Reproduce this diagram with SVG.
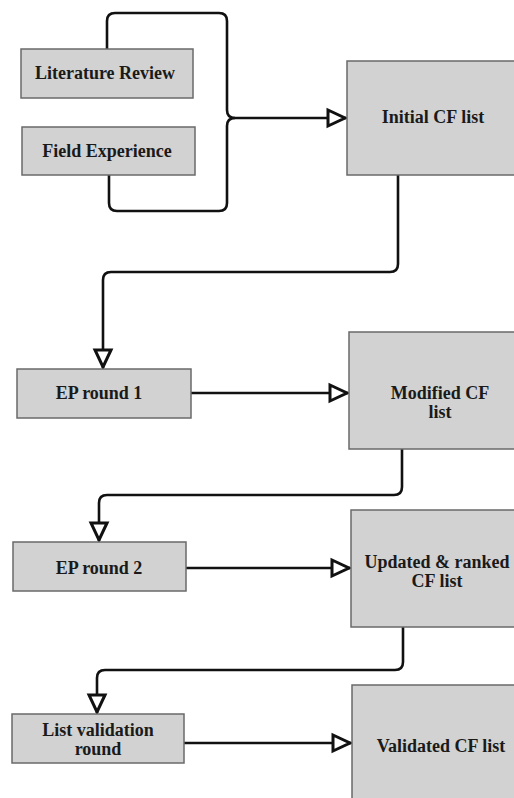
<svg xmlns="http://www.w3.org/2000/svg" width="514" height="798" viewBox="0 0 514 798">
<style>
.box{fill:#d2d2d2;stroke:#6a6a6a;stroke-width:1.5}
.lbl{font-family:"Liberation Serif","Times New Roman",serif;font-weight:bold;font-size:18px;fill:#1a1a1a;text-anchor:middle}
.con{fill:none;stroke:#111;stroke-width:2.6}
</style>
<defs>
<marker id="arr" markerUnits="userSpaceOnUse" markerWidth="26" markerHeight="26" viewBox="0 0 26 26" refX="21" refY="13" orient="auto">
<path d="M3,5 L20,13 L3,21 Z" fill="#fff" stroke="#111" stroke-width="3" stroke-linejoin="miter"/>
</marker>
</defs>
<rect width="514" height="798" fill="#fff"/>
<g id="connectors">
<path class="con" d="M107,49 V21 Q107,13 115,13 H219 Q227,13 227,21 V110 Q227,118 235,118 H346" marker-end="url(#arr)"/>
<path class="con" d="M109,175 V203 Q109,211 117,211 H219 Q227,211 227,203 V126 Q227,118 235,118"/>
<path class="con" d="M398,175 V264 Q398,272 390,272 H111 Q103,272 103,280 V368" marker-end="url(#arr)"/>
<path class="con" d="M191,393 H348" marker-end="url(#arr)"/>
<path class="con" d="M402,449 V487 Q402,495 394,495 H107 Q99,495 99,503 V541" marker-end="url(#arr)"/>
<path class="con" d="M186,568 H350" marker-end="url(#arr)"/>
<path class="con" d="M403,627 V662 Q403,670 395,670 H105 Q97,670 97,678 V713" marker-end="url(#arr)"/>
<path class="con" d="M184,743 H351" marker-end="url(#arr)"/>
</g>
<g id="literature-review">
<rect class="box" x="21" y="49" width="172" height="49"/>
<text class="lbl" x="105" y="79">Literature Review</text>
</g>
<g id="field-experience">
<rect class="box" x="22" y="127" width="173" height="48"/>
<text class="lbl" x="107" y="157">Field Experience</text>
</g>
<g id="initial-cf-list">
<rect class="box" x="347" y="61" width="175" height="114"/>
<text class="lbl" x="433" y="123">Initial CF list</text>
</g>
<g id="ep-round-1">
<rect class="box" x="17" y="369" width="174" height="49"/>
<text class="lbl" x="99" y="399">EP round 1</text>
</g>
<g id="modified-cf-list">
<rect class="box" x="349" y="332" width="173" height="117"/>
<text class="lbl" x="440" y="399">Modified CF</text>
<text class="lbl" x="440" y="418">list</text>
</g>
<g id="ep-round-2">
<rect class="box" x="13" y="542" width="173" height="49"/>
<text class="lbl" x="99" y="574">EP round 2</text>
</g>
<g id="updated-ranked-cf-list">
<rect class="box" x="351" y="510" width="171" height="117"/>
<text class="lbl" x="437" y="568">Updated &amp; ranked</text>
<text class="lbl" x="437" y="587">CF list</text>
</g>
<g id="list-validation-round">
<rect class="box" x="12" y="714" width="172" height="49"/>
<text class="lbl" x="98" y="736">List validation</text>
<text class="lbl" x="98" y="755">round</text>
</g>
<g id="validated-cf-list">
<rect class="box" x="352" y="685" width="170" height="120"/>
<text class="lbl" x="441" y="752">Validated CF list</text>
</g>
</svg>
